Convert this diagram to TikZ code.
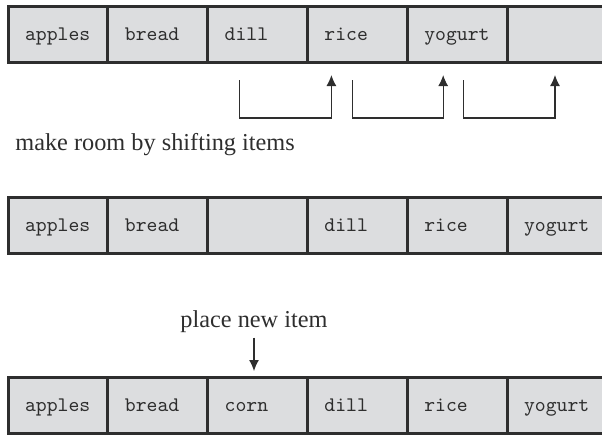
\documentclass[tikz,border=0pt]{standalone}
\usepackage{fontspec}
\setmainfont{Liberation Serif}
\usetikzlibrary{arrows.meta,calc}
\definecolor{cellgray}{HTML}{DCDDDF}
\definecolor{inkgray}{HTML}{2E2E2E}

\begin{document}
\begin{tikzpicture}[x=0.5pt,y=-0.5pt,
  cell/.style={draw=inkgray, fill=cellgray, line width=1.5pt, minimum height=28pt,
    inner xsep=8.5pt, text width=32.9pt, align=left, text height=7.5pt, text depth=1.5pt,
    font=\ttfamily\fontsize{10.35}{12}\selectfont, text=inkgray},
  caption/.style={inner sep=0pt, font=\fontsize{12.15}{14}\selectfont, text=inkgray},
  arr/.style={-{Latex[length=5.5pt,width=5pt]}, line width=0.6pt, draw=inkgray}]
  % Frame of the picture
  \useasboundingbox (0,0) rectangle (602,436);
  \clip (0,0) rectangle (602,436);

  % First row: the list before the insert
  \foreach \item [count=\i] in {apples,bread,dill,rice,yogurt,{}} {
    \node[cell] (top\i) at ({58+99.8*(\i-1)},34.5) {\item};
  }

  % Shifting arrows under the first row
  \foreach \a/\b/\da/\db [count=\k] in {3/4/-18/-26, 4/5/-5/-14, 5/6/6/-2} {
    \coordinate (from\k) at ($(top\a.south)+(\da,16)$);
    \coordinate (to\k) at ($(top\b.south)+(\db,11)$);
    \draw[arr] (from\k) -- ++(0,38) -| (to\k);
  }
  \node[caption, anchor=base west] (shift) at (15,150) {make room by shifting items};

  % Second row: a gap is made
  \foreach \item [count=\i] in {apples,bread,{},dill,rice,yogurt} {
    \node[cell] (mid\i) at ({58+99.8*(\i-1)},225) {\item};
  }

  % Third row: the new item is placed
  \node[caption, anchor=base] (place) at (254,327) {place new item};
  \foreach \item [count=\i] in {apples,bread,corn,dill,rice,yogurt} {
    \node[cell] (bot\i) at ({58+99.8*(\i-1)},405.5) {\item};
  }
  \draw[arr, shorten <=2.5pt, shorten >=2.5pt] (place.south) -- (place.south |- bot3.north);

\end{tikzpicture}
\end{document}
